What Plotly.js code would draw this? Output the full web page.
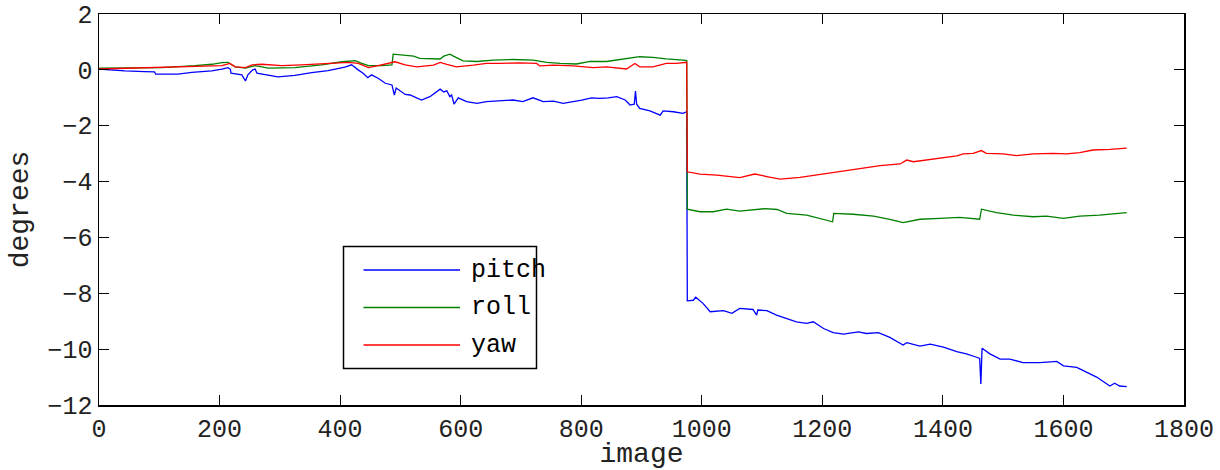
<!DOCTYPE html>
<html>
<head>
<meta charset="utf-8">
<script src="https://cdn.plot.ly/plotly-3.0.1.min.js"></script>
<style>html,body{margin:0;padding:0;background:#fff;}#chart{width:1220px;height:470px;}</style>
</head>
<body>
<div id="chart"></div>
<script>
// Series names and colours
const seriesNames = ["pitch", "roll", "yaw"];
const seriesColors = ["#0000ff", "#008000", "#ff0000"];

// pitch (blue)
const pitchX = [0, 43, 76, 92, 94, 131, 154, 187, 204, 214, 218, 219, 237, 243, 247, 255, 259, 262, 297, 325, 353, 380, 408, 419, 430, 438, 446, 452, 463, 475, 486, 490, 493, 508, 516, 535, 549, 557, 566, 572, 577, 582, 585, 589, 596, 610, 627, 643, 665, 687, 703, 720, 737, 754, 770, 787, 801, 817, 831, 845, 859, 873, 881, 888, 890, 892, 897, 914, 931, 936, 953, 969, 975, 976, 986, 990, 1002, 1014, 1036, 1050, 1063, 1085, 1091, 1093, 1108, 1124, 1141, 1157, 1174, 1185, 1202, 1218, 1235, 1260, 1273, 1293, 1312, 1334, 1340, 1362, 1379, 1401, 1423, 1439, 1456, 1461, 1463, 1465, 1478, 1495, 1511, 1533, 1561, 1589, 1600, 1622, 1633, 1655, 1677, 1685, 1693, 1705];
const pitchY = [0.03, -0.04, -0.06, -0.07, -0.15, -0.15, -0.09, -0.04, 0.03, 0.08, 0.02, -0.12, -0.18, -0.40, -0.18, 0.0, 0.03, -0.12, -0.25, -0.20, -0.10, -0.03, 0.10, 0.18, 0.0, -0.12, -0.28, -0.18, -0.30, -0.48, -0.54, -0.90, -0.65, -0.88, -0.90, -1.08, -0.96, -0.84, -0.69, -0.79, -0.75, -0.96, -0.90, -1.23, -1.00, -1.14, -1.20, -1.14, -1.12, -1.08, -1.14, -1.00, -1.14, -1.12, -1.20, -1.14, -1.08, -1.00, -1.02, -1.00, -0.96, -1.08, -1.26, -1.23, -0.76, -1.23, -1.38, -1.47, -1.62, -1.47, -1.50, -1.56, -1.50, -8.27, -8.25, -8.14, -8.36, -8.66, -8.62, -8.72, -8.54, -8.58, -8.78, -8.60, -8.62, -8.78, -8.90, -9.02, -9.08, -9.02, -9.26, -9.41, -9.46, -9.38, -9.44, -9.41, -9.58, -9.85, -9.77, -9.89, -9.82, -9.93, -10.09, -10.17, -10.29, -10.33, -11.25, -9.97, -10.17, -10.36, -10.36, -10.48, -10.48, -10.44, -10.60, -10.65, -10.77, -11.00, -11.32, -11.22, -11.32, -11.34];

// roll (green)
const rollX = [0, 49, 104, 159, 187, 204, 214, 226, 243, 259, 281, 325, 369, 403, 425, 436, 447, 469, 486, 488, 508, 522, 532, 566, 572, 582, 588, 604, 627, 654, 687, 720, 743, 765, 792, 815, 842, 875, 897, 919, 941, 969, 975, 976, 997, 1019, 1041, 1063, 1105, 1125, 1141, 1174, 1196, 1217, 1219, 1251, 1285, 1312, 1334, 1362, 1395, 1428, 1461, 1464, 1489, 1517, 1550, 1572, 1600, 1627, 1660, 1705];
const rollY = [0.06, 0.06, 0.08, 0.15, 0.20, 0.26, 0.27, 0.11, 0.06, 0.15, 0.06, 0.08, 0.18, 0.29, 0.33, 0.23, 0.15, 0.15, 0.18, 0.56, 0.51, 0.49, 0.41, 0.39, 0.49, 0.56, 0.49, 0.32, 0.30, 0.35, 0.37, 0.35, 0.27, 0.23, 0.21, 0.30, 0.30, 0.41, 0.47, 0.45, 0.39, 0.35, 0.33, -4.99, -5.08, -5.08, -4.99, -5.06, -4.97, -5.00, -5.14, -5.20, -5.32, -5.44, -5.14, -5.17, -5.24, -5.35, -5.47, -5.35, -5.32, -5.28, -5.35, -4.99, -5.11, -5.20, -5.26, -5.24, -5.32, -5.24, -5.20, -5.11];

// yaw (red)
const yawX = [0, 49, 104, 159, 204, 217, 226, 243, 254, 270, 303, 336, 380, 414, 430, 447, 463, 480, 491, 508, 522, 527, 555, 566, 577, 593, 621, 643, 665, 698, 726, 731, 754, 787, 820, 842, 875, 889, 897, 919, 941, 958, 975, 976, 997, 1025, 1063, 1088, 1108, 1130, 1163, 1196, 1229, 1263, 1296, 1329, 1340, 1351, 1384, 1423, 1434, 1450, 1464, 1472, 1500, 1522, 1550, 1583, 1605, 1627, 1649, 1677, 1705];
const yawY = [0.03, 0.06, 0.08, 0.11, 0.15, 0.23, 0.11, 0.08, 0.18, 0.20, 0.15, 0.18, 0.23, 0.27, 0.23, 0.08, 0.15, 0.23, 0.29, 0.18, 0.11, 0.11, 0.17, 0.27, 0.20, 0.11, 0.17, 0.23, 0.23, 0.25, 0.23, 0.14, 0.17, 0.14, 0.08, 0.11, 0.03, 0.23, 0.11, 0.11, 0.23, 0.23, 0.27, -3.65, -3.73, -3.77, -3.86, -3.73, -3.82, -3.91, -3.85, -3.74, -3.65, -3.53, -3.43, -3.37, -3.23, -3.29, -3.20, -3.08, -3.01, -2.99, -2.89, -2.99, -3.01, -3.07, -3.01, -2.99, -3.01, -2.96, -2.87, -2.85, -2.80];

// Axis ticks
const xTicks = [0, 200, 400, 600, 800, 1000, 1200, 1400, 1600, 1800];
const yTicks = [2, 0, -2, -4, -6, -8, -10, -12];
const xTitle = "image";
const yTitle = "degrees";

const FONT = "'Liberation Mono', 'Courier New', monospace";

const xs = [pitchX, rollX, yawX];
const ys = [pitchY, rollY, yawY];
const traces = seriesNames.map((n, i) => ({
  type: "scatter", mode: "lines", name: n,
  x: xs[i], y: ys[i],
  line: {color: seriesColors[i], width: 1.3},
  showlegend: false, hoverinfo: "skip"
}));

// Custom MATLAB-style legend (box + line samples + labels) in paper coordinates
const legX0 = (343.5 - 99) / 1085, legX1 = (536.5 - 99) / 1085;
const legY0 = (405 - 368.5) / 391, legY1 = (405 - 246.5) / 391;
const rowPix = [270, 307.5, 345];
const shapes = [{
  type: "rect", xref: "paper", yref: "paper",
  x0: legX0, x1: legX1, y0: legY0, y1: legY1,
  line: {color: "#000", width: 1.5}, fillcolor: "#fff", layer: "above"
}];
const annotations = [];
seriesNames.forEach((n, i) => {
  const yp = (405 - rowPix[i]) / 391;
  shapes.push({type: "line", xref: "paper", yref: "paper",
    x0: (363.5 - 99) / 1085, x1: (460 - 99) / 1085, y0: yp, y1: yp,
    line: {color: seriesColors[i], width: 1.3}, layer: "above"});
  annotations.push({xref: "paper", yref: "paper", x: (469 - 99) / 1085, y: yp,
    xanchor: "left", yanchor: "middle", text: n, showarrow: false,
    font: {family: FONT, size: 25, color: "#000"}});
});

const layout = {
  width: 1220, height: 470,
  margin: {l: 99, r: 36, t: 14, b: 65},
  paper_bgcolor: "#fff", plot_bgcolor: "#fff",
  font: {family: FONT, size: 25, color: "#000"},
  xaxis: {
    range: [0, 1800], tickvals: xTicks, ticktext: xTicks.map(String),
    ticks: "inside", ticklen: 10, tickwidth: 1.2, tickcolor: "#000",
    showline: true, linecolor: "#000", linewidth: 1.5, mirror: "ticks",
    showgrid: false, zeroline: false,
    tickfont: {family: FONT, size: 25, color: "#222"},
    title: {text: xTitle, font: {family: FONT, size: 28, color: "#222"}, standoff: 4}
  },
  yaxis: {
    range: [-12, 2], tickvals: yTicks, ticktext: yTicks.map(v => v < 0 ? "\u2212" + Math.abs(v) : String(v)),
    ticks: "inside", ticklen: 10, tickwidth: 1.2, tickcolor: "#000",
    showline: true, linecolor: "#000", linewidth: 1.5, mirror: "ticks",
    showgrid: false, zeroline: false,
    tickfont: {family: FONT, size: 25, color: "#222"},
    title: {text: yTitle, font: {family: FONT, size: 28, color: "#222"}, standoff: 10}
  },
  shapes: shapes,
  annotations: annotations
};

Plotly.newPlot("chart", traces, layout, {displayModeBar: false, staticPlot: true});
</script>
</body>
</html>
